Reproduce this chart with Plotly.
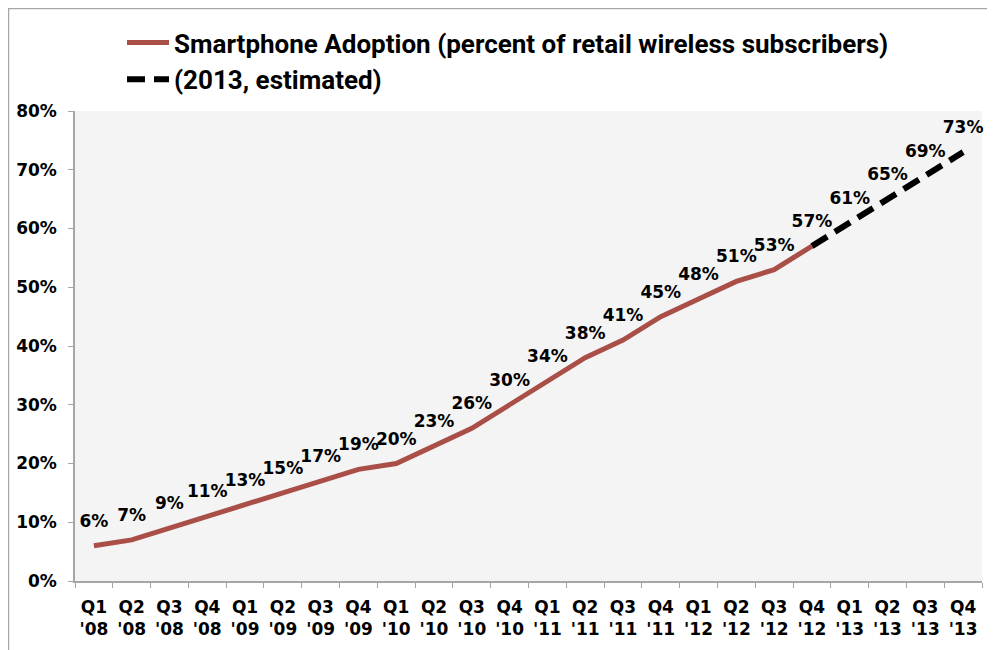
import plotly.graph_objects as go

quarters = ["Q1<br>'08", "Q2<br>'08", "Q3<br>'08", "Q4<br>'08",
            "Q1<br>'09", "Q2<br>'09", "Q3<br>'09", "Q4<br>'09",
            "Q1<br>'10", "Q2<br>'10", "Q3<br>'10", "Q4<br>'10",
            "Q1<br>'11", "Q2<br>'11", "Q3<br>'11", "Q4<br>'11",
            "Q1<br>'12", "Q2<br>'12", "Q3<br>'12", "Q4<br>'12",
            "Q1<br>'13", "Q2<br>'13", "Q3<br>'13", "Q4<br>'13"]
actual = [6, 7, 9, 11, 13, 15, 17, 19, 20, 23, 26, 30, 34, 38, 41, 45, 48, 51, 53, 57]
estimated = [57, 61, 65, 69, 73]
yticks = [0, 10, 20, 30, 40, 50, 60, 70, 80]

x_actual = quarters[:len(actual)]
x_est = quarters[len(actual) - 1:]

# page has an 8px body margin; figure coordinates = page - 8
OFF = 8
W, H = 995 - OFF, 650 - OFF
ML, MR, MT, MB = 75 - OFF, 13, 111 - OFF, 69
PW, PH = W - ML - MR, H - MT - MB

def px(xp):
    return (xp - OFF - ML) / PW

def py(yp):
    return (H - MB - (yp - OFF)) / PH

label_font = dict(family="DejaVu Sans, sans-serif", size=17, color="black", weight="bold")
ghost = dict(size=22, color="rgba(0,0,0,0)")

fig = go.Figure()
fig.add_trace(go.Scatter(
    x=x_actual, y=actual, mode="lines+markers+text",
    name="Smartphone Adoption (percent of retail wireless subscribers)",
    line=dict(color="#a94f47", width=5), marker=ghost,
    text=[f"{v}%" for v in actual], textposition="top center",
    textfont=label_font, cliponaxis=False, hoverinfo="skip"))
fig.add_trace(go.Scatter(
    x=x_est, y=estimated, mode="lines+markers+text",
    name="(2013, estimated)",
    line=dict(color="black", width=6, dash="18px,9px"), marker=ghost,
    text=[""] + [f"{v}%" for v in estimated[1:]], textposition="top center",
    textfont=label_font, cliponaxis=False, hoverinfo="skip"))

axis_font = dict(family="DejaVu Sans, sans-serif", size=17, color="black", weight="bold")

fig.update_layout(
    width=W, height=H,
    margin=dict(l=ML, r=MR, t=MT, b=MB, autoexpand=False),
    paper_bgcolor="white", plot_bgcolor="#f4f4f4",
    showlegend=True,
    legend=dict(x=px(122), y=py(19), xanchor="left", yanchor="top",
                bgcolor="rgba(0,0,0,0)",
                font=dict(family="Liberation Sans Narrow, Roboto, sans-serif", size=26,
                          color="black", weight="bold"),
                tracegroupgap=0, itemwidth=42),
    xaxis=dict(type="category", categoryorder="array", categoryarray=quarters,
               range=[-0.5, len(quarters) - 0.5],
               showgrid=False, zeroline=False,
               showline=True, linecolor="#a6a6a6", linewidth=1.5,
               ticks="outside", tickson="boundaries", ticklen=5, tickcolor="#a6a6a6",
               tickfont=axis_font, tickangle=0, ticklabelstandoff=10),
    yaxis=dict(range=[0, 80], tickvals=yticks, ticktext=[f"{v}%" for v in yticks],
               showgrid=False, zeroline=False,
               showline=True, linecolor="#a6a6a6", linewidth=1.5,
               ticks="outside", ticklen=5, tickcolor="#a6a6a6",
               tickfont=axis_font, ticklabelstandoff=8),
    shapes=[
        dict(type="line", xref="paper", yref="paper",
             x0=px(8.5), x1=px(8.5), y0=py(8), y1=py(660),
             line=dict(color="#a6a6a6", width=1.5)),
        dict(type="line", xref="paper", yref="paper",
             x0=px(8.5), x1=px(1000), y0=py(8.5), y1=py(8.5),
             line=dict(color="#a6a6a6", width=1.5)),
    ],
)

fig.write_html("out.html")
